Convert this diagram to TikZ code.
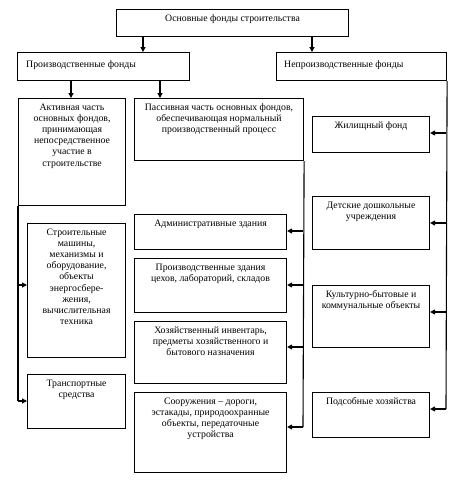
\documentclass[tikz,border=0pt]{standalone}
\usepackage{fontspec}
\setmainfont{Liberation Serif}
\usetikzlibrary{arrows.meta,calc}
\begin{document}
\begin{tikzpicture}[x=1pt,y=-1pt,
  box/.style={draw, line width=1.1pt, inner sep=0pt, anchor=north west},
  txt/.style={font=\fontsize{9.8}{11.2}\selectfont, align=center, anchor=north, inner sep=0pt},
  arr/.style={line width=1.1pt, -{Triangle[length=5pt,width=5pt]}},
  ln/.style={line width=1.1pt}]
\useasboundingbox (0,0) rectangle (463,480);
% boxes
\node[box, minimum width=232pt, minimum height=27pt] (top) at (116,9) {};
\node[box, minimum width=172pt, minimum height=28pt] (pf) at (17,52) {};
\node[box, minimum width=170pt, minimum height=28pt] (np) at (276,52) {};
\node[box, minimum width=107pt, minimum height=107pt] (act) at (18,98) {};
\node[box, minimum width=169pt, minimum height=62pt] (pas) at (134,98) {};
\node[box, minimum width=117pt, minimum height=36pt] (zh) at (312,116) {};
\node[box, minimum width=117pt, minimum height=53pt] (det) at (312,196) {};
\node[box, minimum width=117pt, minimum height=62pt] (kul) at (312,285) {};
\node[box, minimum width=117pt, minimum height=45pt] (pod) at (312,392) {};
\node[box, minimum width=152pt, minimum height=35pt] (adm) at (134,214) {};
\node[box, minimum width=152pt, minimum height=54pt] (prz) at (134,258) {};
\node[box, minimum width=152pt, minimum height=62pt] (hoz) at (134,321) {};
\node[box, minimum width=152pt, minimum height=80pt] (soor) at (134,392) {};
\node[box, minimum width=98pt, minimum height=134pt] (str) at (27,223) {};
\node[box, minimum width=98pt, minimum height=54pt] (tr) at (27,374) {};
% texts
\node[txt] (topt) at ([yshift=-5.5pt]top.north) {Основные фонды строительства};
\node[txt, anchor=north west] (pft) at ([xshift=9pt,yshift=-8pt]pf.north west) {Производственные фонды};
\node[txt, anchor=north west] (npt) at ([xshift=8pt,yshift=-8pt]np.north west) {Непроизводственные фонды};
\node[txt] (actt) at ([yshift=-5.5pt]act.north) {Активная часть\\основных фондов,\\принимающая\\непосредственное\\участие в\\строительстве};
\node[txt] (past) at ([yshift=-5.5pt]pas.north) {Пассивная часть основных фондов,\\обеспечивающая нормальный\\производственный процесс};
\node[txt] (zht) at ([yshift=-5.5pt]zh.north) {Жилищный фонд};
\node[txt] (dett) at ([yshift=-5.5pt]det.north) {Детские дошкольные\\учреждения};
\node[txt] (kult) at ([yshift=-5.5pt]kul.north) {Культурно-бытовые и\\коммунальные объекты};
\node[txt] (podt) at ([yshift=-5.5pt]pod.north) {Подсобные хозяйства};
\node[txt] (admt) at ([yshift=-5.5pt]adm.north) {Административные здания};
\node[txt] (przt) at ([yshift=-5.5pt]prz.north) {Производственные здания\\цехов, лабораторий, складов};
\node[txt] (hozt) at ([yshift=-5.5pt]hoz.north) {Хозяйственный инвентарь,\\предметы хозяйственного и\\бытового назначения};
\node[txt] (soort) at ([yshift=-5.5pt]soor.north) {Сооружения – дороги,\\эстакады, природоохранные\\объекты, передаточные\\устройства};
\node[txt] (strt) at ([yshift=-5.5pt]str.north) {Строительные\\машины,\\механизмы и\\оборудование,\\объекты\\энергосбере-\\жения,\\вычислительная\\техника};
\node[txt] (trt) at ([yshift=-5.5pt]tr.north) {Транспортные\\средства};
% connector coordinates
\coordinate (a1) at (143,0);
\coordinate (a2) at (312,0);
\coordinate (a3) at (71,0);
\coordinate (a4) at (160,0);
\coordinate (r1) at (446,133);
\coordinate (r2) at (446,223);
\coordinate (r3) at (446,312);
\coordinate (r4) at (446,409);
\coordinate (p1) at (303,231);
\coordinate (p2) at (303,285);
\coordinate (p3) at (303,347);
\coordinate (p4) at (303,427);
\coordinate (l1) at (18,285);
\coordinate (l2) at (18,401);
% connectors
\draw[arr] (top.south -| a1) -- (pf.north -| a1);
\draw[arr] (top.south -| a2) -- (np.north -| a2);
\draw[arr] (pf.south -| a3) -- (act.north -| a3);
\draw[arr] (pf.south -| a4) -- (pas.north -| a4);
\draw[ln] (np.south east) -- (r4);
\draw[arr] (r1) -- (r1 -| zh.east);
\draw[arr] (r2) -- (r2 -| det.east);
\draw[arr] (r3) -- (r3 -| kul.east);
\draw[arr] (r4) -- (r4 -| pod.east);
\draw[ln] (pas.south east) -- (p4);
\draw[arr] (p1) -- (p1 -| adm.east);
\draw[arr] (p2) -- (p2 -| prz.east);
\draw[arr] (p3) -- (p3 -| hoz.east);
\draw[arr] (p4) -- (p4 -| soor.east);
\draw[ln] (act.south west) -- (l2);
\draw[arr] (l1) -- (l1 -| str.west);
\draw[arr] (l2) -- (l2 -| tr.west);
\end{tikzpicture}
\end{document}
